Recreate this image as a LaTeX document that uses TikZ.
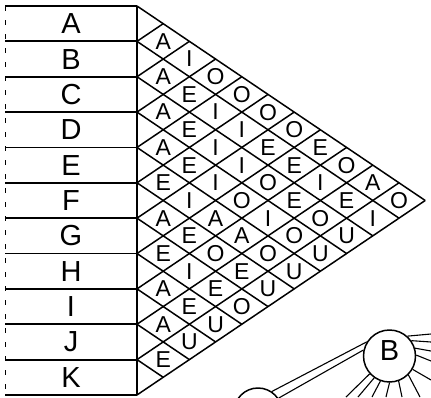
\documentclass[tikz,border=0pt]{standalone}
\usepackage{fontspec}
\setmainfont{Liberation Sans}

\begin{document}
\begin{tikzpicture}[x=1pt,y=-1pt,line width=1.5pt,
  rowlabel/.style={font=\fontsize{29}{29}\selectfont, inner sep=0pt},
  vowel/.style={font=\fontsize{23}{23}\selectfont, inner sep=0pt}]
\useasboundingbox (0,0) rectangle (431,397);
\clip (0,0) rectangle (431,397);
\foreach \k in {0,...,11} {
  \coordinate (l\k) at (5,{6+35.36*\k});
  \coordinate (b\k) at (137,{6+35.36*\k});
  \coordinate (t\k) at ({137+26.2*\k},{6+17.68*\k});
  \coordinate (u\k) at ({137+26.2*(11-\k)},{6+17.68*(11+\k)});
}
\foreach \k in {0,...,11} {
  \draw[line width=1.8pt] (l\k) -- (b\k);
  \draw (b\k) -- (t\k);
  \draw (b\k) -- (u\k);
}
\draw (b0) -- (b11);
\draw[line width=0.8pt, dash pattern=on 5pt off 9pt] (l0) -- (l11);
\foreach \l [count=\k from 0] in {A,B,C,D,E,F,G,H,I,J,K}
  \node[rowlabel] (r\l) at (71,{6+35.36*(\k+0.5)}) {\l};
\foreach \row [count=\i from 0] in {{A,I,O,O,O,O,E,O,A,O},{A,E,I,I,E,E,I,E,I},
    {A,E,I,I,O,E,O,U},{A,E,I,O,I,O,U},{E,I,A,A,O,U},{A,E,O,E,U},
    {E,I,E,O},{A,E,U},{A,U},{E}}
  \foreach \v [count=\d] in \row
    \node[vowel] (c\i-\d) at ({137+26.2*\d},{6+35.36*(\i+\d/2+0.5)}) {\v};
\begin{scope}[line width=1.1pt]
  \node[draw, circle, line width=1.5pt, minimum size=52pt, inner sep=0pt,
    rowlabel, text height=20pt, text depth=12pt] (B) at (389.5,356) {B};
  \node[draw, circle, line width=1.5pt, minimum size=48pt] (C) at (258,412) {};
  \coordinate (e1) at (431,334);
  \coordinate (e2) at (431,342);
  \coordinate (e3) at (431,351);
  \coordinate (e4) at (431,361);
  \coordinate (e5) at (431,380);
  \coordinate (e6) at (420,397);
  \coordinate (e7) at (402,397);
  \coordinate (e8) at (386,397);
  \coordinate (e9) at (372,397);
  \coordinate (e10) at (358,397);
  \coordinate (e11) at (346,397);
  \path (B.148) edge (C.56);
  \path (B.167) edge (C.34);
  \path (B.48) edge (e1);
  \path (B.35) edge (e2);
  \path (B.17) edge (e3);
  \path (B.2) edge (e4);
  \path (B.330) edge (e5);
  \path (B.315) edge (e6);
  \path (B.290) edge (e7);
  \path (B.270) edge (e8);
  \path (B.250) edge (e9);
  \path (B.235) edge (e10);
  \path (B.222) edge (e11);
\end{scope}
\end{tikzpicture}
\end{document}
